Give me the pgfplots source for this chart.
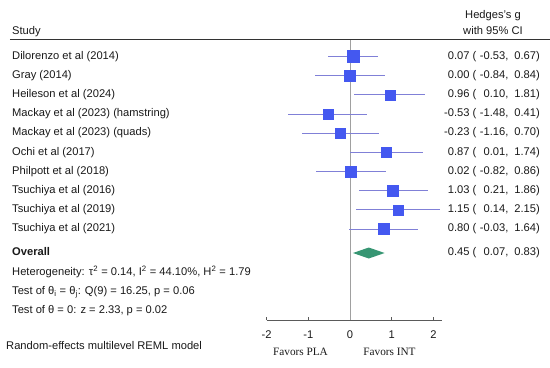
\documentclass[border=0pt]{standalone}
\usepackage{pgfplots}
\pgfplotsset{compat=1.18}
\usepackage{pgfplotstable}
\usepackage{fontspec}
\setmainfont{Liberation Sans}
\newfontfamily\favfont{Liberation Serif}
\definecolor{sqblue}{RGB}{68,88,240}
\definecolor{ciline}{RGB}{128,128,215}
\definecolor{diam}{RGB}{55,150,115}
\definecolor{zerol}{RGB}{160,160,160}
\definecolor{axl}{RGB}{90,90,90}
\definecolor{txt}{RGB}{25,25,25}

\pgfplotstableread{
y g lo hi s
-56.5 0.07 -0.53 0.67 6.1
-75.7 0.00 -0.84 0.84 5.6
-94.8 0.96 0.10 1.81 5.1
-114.0 -0.53 -1.48 0.41 5.3
-133.1 -0.23 -1.16 0.70 5.0
-152.3 0.87 0.01 1.74 5.3
-171.4 0.02 -0.82 0.86 5.5
-190.5 1.03 0.21 1.86 5.5
-209.7 1.15 0.14 2.15 5.0
-228.9 0.80 -0.03 1.64 5.5
}\studies

\newcommand\ci[3]{#1 (\makebox[2.6em][r]{#2}, \makebox[2.2em][r]{#3})}

\begin{document}
\begin{tikzpicture}[every node/.style={text=txt}]
\begin{axis}[
  x=41.7bp, y=1bp,
  xmin=-2, xmax=2.2, ymin=-320, ymax=-40,
  axis x line*=bottom, axis y line=none,
  x axis line style={axl, line width=0.8bp},
  xtick={-2,-1,0,1,2},
  xticklabels={-2,-1,0,1,2},
  tick align=inside,
  major tick length=3bp,
  tick style={axl, line width=0.6bp},
  xticklabel style={font=\fontsize{11.2}{13}\selectfont, text=txt, yshift=-7bp},
  clip=false,
]
\addplot[zerol, line width=0.8bp, forget plot] coordinates {(0,-40) (0,-320)};
\addplot[only marks, mark=none, forget plot,
  error bars/.cd, x dir=both, x explicit, error mark=none,
  error bar style={ciline, line width=0.8bp}]
  table[x=g, y=y, x error plus expr=\thisrow{hi}-\thisrow{g}, x error minus expr=\thisrow{g}-\thisrow{lo}] {\studies};
\addplot[only marks, mark=square*, scatter,
  scatter/use mapped color={draw=sqblue, fill=sqblue},
  visualization depends on={\thisrow{s} \as \msize},
  scatter/@pre marker code/.append style={/tikz/mark size=\msize},
  mark options={line width=0.2bp}]
  table[x=g, y=y] {\studies};
\addplot[fill=diam, draw=none] coordinates {(0.07,-253) (0.45,-247.5) (0.83,-253) (0.45,-258.5)} -- cycle;
\coordinate (O) at (axis cs:0,0);
\end{axis}
\pgfresetboundingbox
\begin{scope}[shift={(O)}, xshift=-350bp, x=1bp, y=-1bp,
  every node/.append style={inner sep=0pt, text height=0.75em, text depth=0.2em, font=\fontsize{11.2}{13}\selectfont}]
\path[use as bounding box] (0,0) rectangle (550,367);
\draw[black!80, line width=0.9bp] (10,39.5) -- (550,39.5);
\node[anchor=west] at (12,31.5) {Study};
\node[anchor=center] at (493,15.7) {Hedges's g};
\node[anchor=center] at (493,31.7) {with 95\% CI};
% study names
\node[anchor=west] at (12,56.5) {Dilorenzo et al (2014)};
\node[anchor=west] at (12,75.7) {Gray (2014)};
\node[anchor=west] at (12,94.8) {Heileson et al (2024)};
\node[anchor=west] at (12,114.0) {Mackay et al (2023) (hamstring)};
\node[anchor=west] at (12,133.1) {Mackay et al (2023) (quads)};
\node[anchor=west] at (12,152.3) {Ochi et al (2017)};
\node[anchor=west] at (12,171.4) {Philpott et al (2018)};
\node[anchor=west] at (12,190.5) {Tsuchiya et al (2016)};
\node[anchor=west] at (12,209.7) {Tsuchiya et al (2019)};
\node[anchor=west] at (12,228.9) {Tsuchiya et al (2021)};
\node[anchor=west] at (12,253) {\bfseries Overall};
\node[anchor=west] at (12,272.5) {Heterogeneity: τ\textsuperscript{2} = 0.14, I\textsuperscript{2} = 44.10\%, H\textsuperscript{2} = 1.79};
\node[anchor=west] at (12,292) {Test of θ\textsubscript{i} = θ\textsubscript{j}: Q(9) = 16.25, p = 0.06};
\node[anchor=west] at (12,311) {Test of θ = 0: z = 2.33, p = 0.02};
\node[anchor=west] at (6,346.7) {Random-effects multilevel REML model};
% estimates
\node[anchor=east] at (540,56.5) {\ci{0.07}{-0.53}{0.67}};
\node[anchor=east] at (540,75.7) {\ci{0.00}{-0.84}{0.84}};
\node[anchor=east] at (540,94.8) {\ci{0.96}{0.10}{1.81}};
\node[anchor=east] at (540,114.0) {\ci{-0.53}{-1.48}{0.41}};
\node[anchor=east] at (540,133.1) {\ci{-0.23}{-1.16}{0.70}};
\node[anchor=east] at (540,152.3) {\ci{0.87}{0.01}{1.74}};
\node[anchor=east] at (540,171.4) {\ci{0.02}{-0.82}{0.86}};
\node[anchor=east] at (540,190.5) {\ci{1.03}{0.21}{1.86}};
\node[anchor=east] at (540,209.7) {\ci{1.15}{0.14}{2.15}};
\node[anchor=east] at (540,228.9) {\ci{0.80}{-0.03}{1.64}};
\node[anchor=east] at (540,253) {\ci{0.45}{0.07}{0.83}};
% favors
\node[anchor=center, font=\favfont\fontsize{11.3}{13}\selectfont] at (300.5,352.7) {Favors PLA};
\node[anchor=center, font=\favfont\fontsize{11.3}{13}\selectfont] at (389.5,352.7) {Favors INT};
\end{scope}
\end{tikzpicture}
\end{document}
